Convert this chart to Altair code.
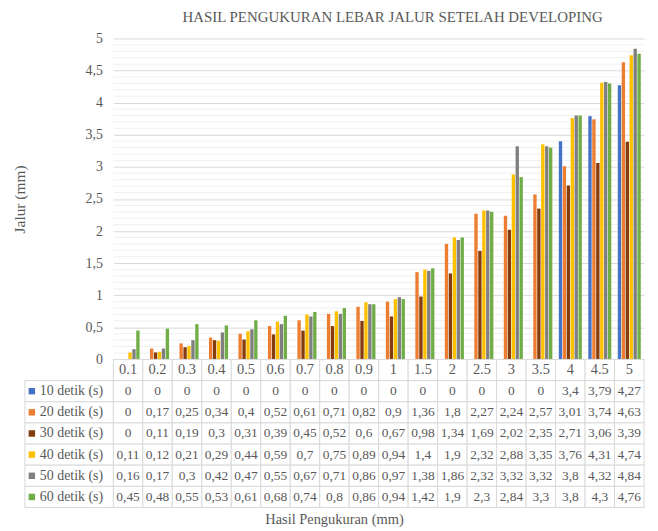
import altair as alt
import pandas as pd

categories = ["0.1", "0.2", "0.3", "0.4", "0.5", "0.6", "0.7", "0.8", "0.9",
              "1", "1.5", "2", "2.5", "3", "3.5", "4", "4.5", "5"]
series = ["10 detik (s)", "20 detik (s)", "30 detik (s)",
          "40 detik (s)", "50 detik (s)", "60 detik (s)"]
colors = ["#4472C4", "#ED7D31", "#843C0C", "#FFC000", "#7F7F7F", "#70AD47"]

s10 = [0, 0, 0, 0, 0, 0, 0, 0, 0, 0, 0, 0, 0, 0, 0, 3.4, 3.79, 4.27]
s20 = [0, 0.17, 0.25, 0.34, 0.4, 0.52, 0.61, 0.71, 0.82, 0.9, 1.36, 1.8, 2.27, 2.24, 2.57, 3.01, 3.74, 4.63]
s30 = [0, 0.11, 0.19, 0.3, 0.31, 0.39, 0.45, 0.52, 0.6, 0.67, 0.98, 1.34, 1.69, 2.02, 2.35, 2.71, 3.06, 3.39]
s40 = [0.11, 0.12, 0.21, 0.29, 0.44, 0.59, 0.7, 0.75, 0.89, 0.94, 1.4, 1.9, 2.32, 2.88, 3.35, 3.76, 4.31, 4.74]
s50 = [0.16, 0.17, 0.3, 0.42, 0.47, 0.55, 0.67, 0.71, 0.86, 0.97, 1.38, 1.86, 2.32, 3.32, 3.32, 3.8, 4.32, 4.84]
s60 = [0.45, 0.48, 0.55, 0.53, 0.61, 0.68, 0.74, 0.8, 0.86, 0.94, 1.42, 1.9, 2.3, 2.84, 3.3, 3.8, 4.3, 4.76]

y_ticks = [0, 0.5, 1, 1.5, 2, 2.5, 3, 3.5, 4, 4.5, 5]
minor_ticks = [round(i * 0.1, 1) for i in range(1, 50) if i % 5 != 0]

FONT = "Liberation Serif"
TXT = "#595959"
GRID = "#d9d9d9"
MINOR = "#f0f0f0"

rows = []
for s, vals in zip(series, [s10, s20, s30, s40, s50, s60]):
    for c, v in zip(categories, vals):
        rows.append({"cat": c, "series": s, "value": v,
                     "label": ("%g" % v).replace(".", ",")})
df = pd.DataFrame(rows)
hdr = pd.DataFrame({"cat": categories, "series": "hdr", "label": categories})
table_df = pd.concat([hdr, df[["cat", "series", "label"]]], ignore_index=True)
legend_df = pd.DataFrame({"series": series})
minor_df = pd.DataFrame({"value": minor_ticks})

row_order = ["hdr"] + series
color_scale = alt.Scale(domain=series, range=colors)

# ---------- top: bars ----------
y_axis = alt.Axis(values=y_ticks,
                  labelExpr="replace(format(datum.value, '~g'), '.', ',')",
                  gridColor=GRID, domain=False, ticks=False,
                  labelPadding=11, labelFontSize=14, labelFont=FONT,
                  labelColor=TXT, labelOverlap=False,
                  title="Jalur (mm)", titleFont=FONT,
                  titleFontSize=15.5, titleFontWeight="normal",
                  titleColor=TXT, titleX=-86)
y_scale = alt.Scale(domain=[0, 5], nice=False)

minor = alt.Chart(minor_df).mark_rule(color=MINOR, strokeWidth=1).encode(
    y=alt.Y("value:Q", scale=y_scale, axis=y_axis)
)

bars = alt.Chart(df).mark_bar().encode(
    x=alt.X("cat:N", sort=categories,
            scale=alt.Scale(domain=categories, paddingInner=0.22, paddingOuter=0.11),
            axis=None),
    xOffset=alt.XOffset("series:N", sort=series,
                        scale=alt.Scale(domain=series, paddingInner=0.15)),
    y=alt.Y("value:Q", scale=y_scale, axis=y_axis),
    color=alt.Color("series:N", scale=color_scale, legend=None),
)

top = alt.layer(minor, bars).properties(
    width=534, height=323,
    title=alt.TitleParams("HASIL PENGUKURAN LEBAR JALUR SETELAH DEVELOPING",
                          font=FONT, fontSize=15, fontWeight="normal",
                          color=TXT, offset=7, dx=14),
)

# ---------- bottom: data table ----------
x_tab = alt.X("cat:N", sort=categories,
              scale=alt.Scale(domain=categories, paddingInner=0, paddingOuter=0),
              axis=alt.Axis(labels=False, ticks=False, domain=False, grid=False,
                            title="Hasil Pengukuran (mm)", titleFont=FONT,
                            titleFontSize=14.5, titleFontWeight="normal",
                            titleColor=TXT, titleX=222, titlePadding=5))
y_tab = alt.Y("series:N", sort=row_order,
              scale=alt.Scale(domain=row_order, paddingInner=0, paddingOuter=0),
              axis=None)

cells = alt.Chart(table_df).mark_rect(fill="white", stroke=GRID, strokeWidth=1).encode(
    x=x_tab, y=y_tab)
head_txt = alt.Chart(table_df).transform_filter("datum.series == 'hdr'").mark_text(
    font=FONT, fontSize=14.5, color=TXT).encode(x=x_tab, y=y_tab, text="label:N")
num_txt = alt.Chart(table_df).transform_filter("datum.series != 'hdr'").mark_text(
    font=FONT, fontSize=13.5, color=TXT).encode(x=x_tab, y=y_tab, text="label:N")

leg_cells = alt.Chart(legend_df).mark_rect(fill="white", stroke=GRID, strokeWidth=1).encode(
    x=alt.value(-89), x2=alt.value(0), y=y_tab)
leg_sq = alt.Chart(legend_df).mark_square(size=42, opacity=1).encode(
    x=alt.value(-82), y=y_tab,
    color=alt.Color("series:N", scale=color_scale, legend=None))
leg_txt = alt.Chart(legend_df).mark_text(font=FONT, fontSize=14, color=TXT, align="left").encode(
    x=alt.value(-74), y=y_tab, text="series:N")

table = alt.layer(cells, head_txt, num_txt, leg_cells, leg_sq, leg_txt).properties(
    width=534, height=149)

chart = alt.vconcat(top, table, spacing=0, bounds="flush").properties(
    padding={"left": 5, "right": 5, "top": 0, "bottom": 5}
).resolve_scale(color="shared").configure(
    font=FONT,
    view=alt.ViewConfig(stroke=None),
    text=alt.MarkConfig(font=FONT),
    axis=alt.AxisConfig(labelFont=FONT, titleFont=FONT),
    axisX=alt.AxisConfig(grid=False),
    axisY=alt.AxisConfig(titleFontSize=15.5, labelFontSize=14),
    title=alt.TitleConfig(font=FONT),
)

chart.save("out.html", embed_options={"renderer": "svg", "actions": False})
